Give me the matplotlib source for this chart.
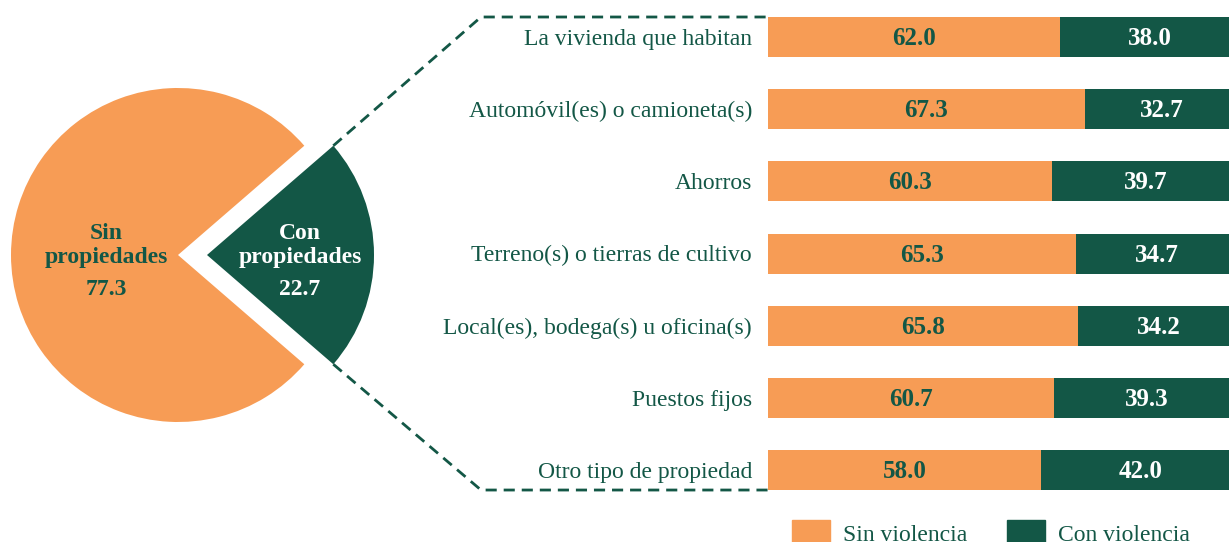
import matplotlib
matplotlib.use("Agg")
import matplotlib.pyplot as plt
from matplotlib.lines import Line2D
from matplotlib.patches import Patch
import numpy as np

plt.rcParams['font.family'] = ['Liberation Serif', 'DejaVu Serif']

ORANGE = '#F79C55'
GREEN = '#135746'

# data
pie_labels = ['Con\npropiedades', 'Sin\npropiedades']
pie_values = [22.7, 77.3]

categories = ['La vivienda que habitan', 'Automóvil(es) o camioneta(s)', 'Ahorros',
              'Terreno(s) o tierras de cultivo', 'Local(es), bodega(s) u oficina(s)',
              'Puestos fijos', 'Otro tipo de propiedad']
sin_violencia = [62.0, 67.3, 60.3, 65.3, 65.8, 60.7, 58.0]
con_violencia = [38.0, 32.7, 39.7, 34.7, 34.2, 39.3, 42.0]

FS = 17
PX = 0.72  # points per pixel at dpi 100
W, H = 1229, 542
fig = plt.figure(figsize=(W / 100, H / 100), dpi=100)

# ---- pie ----
R = 167.0
cx, cy = 178.0, 255.0
ax_pie = fig.add_axes([0, 0, 400 / W, 1])
half = pie_values[0] * 3.6 / 2
wedges, _ = ax_pie.pie(pie_values, colors=[GREEN, ORANGE], startangle=-half,
                       explode=[29 / R, 0], radius=1,
                       wedgeprops=dict(linewidth=0))
ax_pie.set_xlim(-cx / R, (400 - cx) / R)
ax_pie.set_ylim(-(H - cy) / R, cy / R)
ax_pie.set_aspect('auto')
ax_pie.axis('off')


def px(x, y):
    return (x - cx) / R, (cy - y) / R


# label lines at baselines 239 / 263, value at 295
for lab, val, x, col in [(pie_labels[1], pie_values[1], 106, GREEN),
                         (pie_labels[0], pie_values[0], 300, 'white')]:
    lines = lab.split('\n') + [f'{val:.1f}']
    for txt, yb in zip(lines, [239, 263, 295]):
        ax_pie.text(*px(x, yb), txt, ha='center', va='baseline', color=col,
                    fontsize=FS, fontweight='bold')

# ---- bars ----
bx0 = 768
bar_w = 471  # full 100% width, runs past the right edge of the figure
ax_bar = fig.add_axes([bx0 / W, 0, bar_w / W, 1])
step = 72.17
top = 37.0
ax_bar.set_ylim((H - top) / step, -top / step)
ax_bar.set_xlim(0, 100)
y = np.arange(len(categories))
bh = 40 / step
ax_bar.barh(y, sin_violencia, height=bh, color=ORANGE)
ax_bar.barh(y, con_violencia, left=sin_violencia, height=bh, color=GREEN)
for i in range(len(categories)):
    ax_bar.annotate(f'{sin_violencia[i]:.1f}', (sin_violencia[i] / 2, i),
                    xytext=(0, -8 * PX), textcoords='offset points',
                    ha='center', va='baseline', color=GREEN, fontsize=18,
                    fontweight='bold')
    ax_bar.annotate(f'{con_violencia[i]:.1f}', (sin_violencia[i] + con_violencia[i] / 2, i),
                    xytext=(0, -8 * PX), textcoords='offset points',
                    ha='center', va='baseline', color='white', fontsize=18,
                    fontweight='bold')
    ax_bar.annotate(categories[i], (0, i), xytext=(-16 * PX, -8 * PX),
                    textcoords='offset points', ha='right', va='baseline',
                    color=GREEN, fontsize=FS, annotation_clip=False)
ax_bar.set_xticks([])
ax_bar.set_yticks([])
for s in ax_bar.spines.values():
    s.set_visible(False)
ax_bar.patch.set_visible(False)

# ---- connector lines ----
fig.canvas.draw()
ang = np.deg2rad(half)
off = 29 / R
tip_top = ax_pie.transData.transform((off + np.cos(ang), np.sin(ang)))
tip_bot = ax_pie.transData.transform((off + np.cos(ang), -np.sin(ang)))
bar_top = ax_bar.transData.transform((0, -bh / 2))
bar_bot = ax_bar.transData.transform((0, len(categories) - 1 + bh / 2))
elbow_x = 481
for tip, corner in [(tip_top, bar_top), (tip_bot, bar_bot)]:
    line = Line2D([tip[0], elbow_x, corner[0]], [tip[1], corner[1], corner[1]],
                  transform=None, color=GREEN, linewidth=2, linestyle=(0, (4, 2.5)))
    fig.add_artist(line)

# ---- legend ----
handles = [Patch(color=ORANGE), Patch(color=GREEN)]
fig.legend(handles, ['Sin violencia', 'Con violencia'], loc='upper left',
           bbox_to_anchor=(792 / W, (H - 520) / H), ncol=2, frameon=False,
           fontsize=FS, borderpad=0, borderaxespad=0, handlelength=1.61,
           handleheight=1.3, handletextpad=0.55, columnspacing=1.69,
           labelcolor=GREEN)

fig.savefig('out.png', dpi=100)
